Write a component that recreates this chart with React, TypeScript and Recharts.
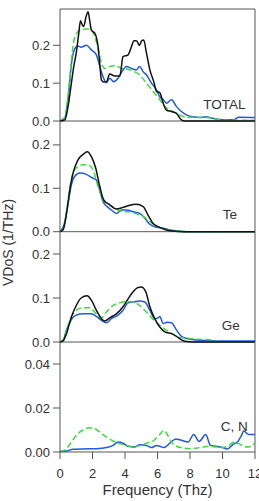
import { LineChart, Line, XAxis, YAxis, ReferenceLine } from "recharts";

type Pt = [number, number];

// frequency (THz) vs VDoS (1/THz)
const totalBlack: Pt[] = [
  [0, 0], [0.3, 0.003], [0.5, 0.04], [0.7, 0.1], [0.85, 0.145], [1.0, 0.18], [1.15, 0.23],
  [1.26, 0.265], [1.36, 0.255], [1.46, 0.25], [1.6, 0.275], [1.73, 0.289], [1.83, 0.265],
  [1.93, 0.24], [2.14, 0.232], [2.34, 0.197], [2.45, 0.15], [2.55, 0.108], [2.7, 0.103],
  [2.86, 0.104], [3.06, 0.124], [3.37, 0.119], [3.68, 0.119], [3.88, 0.17], [4.19, 0.175],
  [4.4, 0.197], [4.55, 0.212], [4.7, 0.212], [4.9, 0.2], [5.02, 0.212], [5.15, 0.214],
  [5.32, 0.18], [5.53, 0.135], [5.77, 0.104], [5.94, 0.078], [6.14, 0.075], [6.35, 0.047],
  [6.55, 0.029], [6.86, 0.025], [7.17, 0.02], [7.47, 0.003], [7.7, 0], [12, 0],
];
const totalGreen: Pt[] = [
  [0, 0], [0.3, 0.01], [0.5, 0.07], [0.7, 0.16], [0.9, 0.22], [1.23, 0.24], [1.62, 0.243],
  [1.93, 0.24], [2.14, 0.223], [2.34, 0.192], [2.55, 0.153], [2.75, 0.139], [3.06, 0.144],
  [3.37, 0.147], [3.78, 0.139], [4.19, 0.137], [4.6, 0.13], [4.9, 0.122], [5.32, 0.1],
  [5.73, 0.078], [6.14, 0.056], [6.55, 0.034], [6.96, 0.025], [7.37, 0.016], [7.78, 0.01],
  [8.6, 0.01], [9.4, 0.007], [9.8, 0.004], [10.5, 0.002], [12, 0.002],
];
const totalBlue: Pt[] = [
  [0, 0], [0.3, 0.008], [0.5, 0.06], [0.7, 0.15], [0.9, 0.19], [1.1, 0.198], [1.3, 0.195],
  [1.62, 0.2], [1.93, 0.188], [2.24, 0.175], [2.45, 0.144], [2.65, 0.117], [2.86, 0.101],
  [3.06, 0.113], [3.3, 0.104], [3.57, 0.113], [3.78, 0.128], [4.09, 0.144], [4.4, 0.139],
  [4.7, 0.135], [4.9, 0.144], [5.12, 0.13], [5.32, 0.122], [5.63, 0.1], [5.94, 0.082],
  [6.14, 0.064], [6.35, 0.057], [6.55, 0.047], [6.86, 0.056], [7.17, 0.038], [7.47, 0.025],
  [7.78, 0.016], [8.19, 0.011], [8.6, 0.009], [9.0, 0.011], [9.4, 0.007], [10.0, 0.003],
  [10.66, 0.003], [11.0, 0.01], [12, 0.009],
];

const teBlack: Pt[] = [
  [0, 0], [0.2, 0.005], [0.4, 0.042], [0.6, 0.096], [0.8, 0.135], [1.1, 0.165], [1.42, 0.178],
  [1.67, 0.184], [1.93, 0.173], [2.2, 0.146], [2.45, 0.104], [2.69, 0.073], [3.06, 0.062],
  [3.47, 0.052], [3.88, 0.056], [4.29, 0.061], [4.7, 0.063], [5.12, 0.058], [5.42, 0.038],
  [5.73, 0.019], [6.14, 0.01], [6.55, 0.004], [6.96, 0.0015], [7.5, 0], [12, 0],
];
const teGreen: Pt[] = [
  [0, 0], [0.2, 0.008], [0.4, 0.046], [0.6, 0.1], [0.8, 0.135], [1.1, 0.15], [1.42, 0.154],
  [1.73, 0.154], [2.04, 0.142], [2.34, 0.104], [2.65, 0.073], [3.06, 0.062], [3.47, 0.052],
  [3.88, 0.046], [4.29, 0.046], [4.7, 0.041], [5.12, 0.035], [5.53, 0.023], [5.94, 0.013],
  [6.55, 0.005], [7.17, 0.0015], [7.8, 0], [12, 0],
];
const teBlue: Pt[] = [
  [0, 0], [0.3, 0.023], [0.5, 0.065], [0.7, 0.108], [0.9, 0.127], [1.23, 0.135], [1.62, 0.132],
  [1.93, 0.125], [2.24, 0.119], [2.45, 0.096], [2.65, 0.069], [2.86, 0.059], [3.16, 0.05],
  [3.47, 0.042], [3.78, 0.05], [4.09, 0.05], [4.5, 0.046], [4.9, 0.042], [5.22, 0.031],
  [5.53, 0.017], [5.94, 0.01], [6.35, 0.008], [6.76, 0.004], [7.37, 0.0015], [8, 0], [12, 0],
];

const geBlack: Pt[] = [
  [0, 0], [0.2, 0.003], [0.4, 0.019], [0.7, 0.057], [1.0, 0.083], [1.3, 0.1], [1.67, 0.105],
  [1.93, 0.095], [2.24, 0.072], [2.55, 0.053], [2.75, 0.048], [3.06, 0.055], [3.47, 0.064],
  [3.88, 0.08], [4.19, 0.098], [4.5, 0.114], [4.75, 0.123], [5.0, 0.125], [5.28, 0.114],
  [5.53, 0.08], [5.83, 0.053], [6.14, 0.034], [6.45, 0.023], [6.86, 0.019], [7.17, 0.013],
  [7.47, 0.005], [7.78, 0.001], [8.2, 0], [12, 0],
];
const geGreen: Pt[] = [
  [0, 0], [0.2, 0.005], [0.4, 0.027], [0.7, 0.057], [1.0, 0.072], [1.42, 0.078], [1.83, 0.078],
  [2.24, 0.064], [2.55, 0.055], [2.86, 0.068], [3.27, 0.083], [3.68, 0.089], [4.09, 0.092],
  [4.5, 0.091], [4.9, 0.083], [5.32, 0.068], [5.73, 0.051], [6.14, 0.038], [6.55, 0.027],
  [6.96, 0.017], [7.37, 0.01], [8.0, 0.008], [8.6, 0.006], [9.2, 0.005], [9.6, 0.001], [10, 0],
  [12, 0],
];
const geBlue: Pt[] = [
  [0, 0], [0.2, 0.004], [0.4, 0.027], [0.7, 0.051], [1.0, 0.061], [1.42, 0.064], [1.93, 0.064],
  [2.24, 0.058], [2.55, 0.049], [2.86, 0.044], [3.16, 0.053], [3.57, 0.061], [3.88, 0.072],
  [4.19, 0.089], [4.5, 0.091], [4.9, 0.093], [5.22, 0.091], [5.53, 0.072], [5.83, 0.053],
  [6.04, 0.055], [6.14, 0.058], [6.35, 0.042], [6.59, 0.045], [6.86, 0.044], [7.17, 0.027],
  [7.47, 0.013], [7.78, 0.008], [8.6, 0.004], [10.66, 0.002], [11.4, 0.002], [12, 0.002],
];

const cnGreen: Pt[] = [
  [0, 0], [0.4, 0.0015], [0.7, 0.0045], [1.0, 0.0076], [1.42, 0.01], [1.83, 0.011],
  [2.14, 0.0106], [2.45, 0.009], [2.86, 0.0068], [3.27, 0.005], [3.68, 0.0038], [4.09, 0.003],
  [4.5, 0.0023], [4.9, 0.0029], [5.32, 0.004], [5.73, 0.005], [6.1, 0.0076], [6.4, 0.0098],
  [6.55, 0.0086], [6.86, 0.0045], [7.17, 0.0026], [7.58, 0.0018], [8.0, 0.0015], [8.6, 0.002],
  [9.2, 0.0026], [9.6, 0.0023], [10.0, 0.002], [10.4, 0.003], [10.7, 0.0045], [11.0, 0.0038],
  [11.4, 0.0023], [11.8, 0.0026], [12, 0.0045],
];
const cnBlue: Pt[] = [
  [0, 0.0003], [0.4, 0.0005], [0.8, 0.0012], [1.42, 0.0014], [2.24, 0.0015], [2.86, 0.002],
  [3.27, 0.003], [3.57, 0.0045], [3.88, 0.004], [4.19, 0.0026], [4.6, 0.0023], [4.9, 0.0033],
  [5.32, 0.003], [5.63, 0.002], [5.94, 0.003], [6.14, 0.0026], [6.4, 0.002], [6.76, 0.004],
  [7.13, 0.0059], [7.47, 0.0053], [7.88, 0.0045], [8.23, 0.008], [8.56, 0.0048], [8.97, 0.0079],
  [9.26, 0.003], [9.6, 0.0026], [10.0, 0.002], [10.3, 0.0014], [10.66, 0.0035], [10.95, 0.0048],
  [11.17, 0.0076], [11.3, 0.0095], [11.6, 0.008], [12, 0.0079],
];

const freqTicks = [0, 2, 4, 6, 8, 10, 12];
const wideTicks = [0, 0.1, 0.2];
const cnTicks = [0, 0.02, 0.04];

const FONT = '"Liberation Sans", Arial, sans-serif';
const AXIS = "#555";
const TEXT = "#333";
const BLACK = "#111";
const BLUE = "#2358dc";
const GREEN = "#3ddc3d";

const rows = (pts: Pt[]) => pts.map(([f, v]) => ({ f, v }));

interface PanelProps {
  top: number;
  plotHeight: number;
  marginTop: number;
  domainMax: number;
  ticks: number[];
  digits: number;
  black?: Pt[];
  blue: Pt[];
  green: Pt[];
  showX?: boolean;
  frameTop?: boolean;
}

const X_AXIS_H = 49.3;

function Panel(p: PanelProps) {
  // room below the plot so the bottom tick label isn't clipped
  const bottom = p.showX ? 0 : 10;
  const height = p.marginTop + p.plotHeight + (p.showX ? X_AXIS_H : bottom);
  return (
    <div style={{ position: "absolute", left: 0, top: p.top - p.marginTop }}>
      <LineChart
        width={259}
        height={height}
        margin={{ top: p.marginTop, right: 4, left: 0, bottom }}
      >
        <XAxis
          type="number"
          dataKey="f"
          domain={[0, 12]}
          ticks={freqTicks}
          interval={0}
          hide={!p.showX}
          height={X_AXIS_H}
          stroke={AXIS}
          tickSize={7}
          tickMargin={10}
          tick={{ fontSize: 13, fill: TEXT }}
          label={{
            value: "Frequency (Thz)",
            position: "insideBottom",
            offset: 6,
            fill: TEXT,
            fontSize: 15,
          }}
        />
        <YAxis
          type="number"
          domain={[0, p.domainMax]}
          ticks={p.ticks}
          interval={0}
          width={60}
          stroke={AXIS}
          tickSize={7}
          tickMargin={3}
          tick={{ fontSize: 13, fill: TEXT }}
          tickFormatter={(v: number) => v.toFixed(p.digits)}
        />
        {!p.showX && <ReferenceLine y={0} stroke={AXIS} />}
        {p.frameTop && <ReferenceLine y={p.domainMax} stroke={AXIS} />}
        <ReferenceLine x={12} stroke={AXIS} />
        <Line
          data={rows(p.blue)}
          dataKey="v"
          type="monotone"
          stroke={BLUE}
          strokeWidth={1.5}
          dot={false}
          isAnimationActive={false}
        />
        <Line
          data={rows(p.green)}
          dataKey="v"
          type="monotone"
          stroke={GREEN}
          strokeWidth={1.5}
          strokeDasharray="6 3"
          dot={false}
          isAnimationActive={false}
        />
        {p.black && (
          <Line
            data={rows(p.black)}
            dataKey="v"
            type="monotone"
            stroke={BLACK}
            strokeWidth={1.5}
            dot={false}
            isAnimationActive={false}
          />
        )}
      </LineChart>
    </div>
  );
}

export default function App() {
  return (
    <div
      style={{
        position: "absolute",
        left: 0,
        top: 0,
        width: 259,
        height: 501,
        background: "#fff",
        fontFamily: FONT,
        overflow: "hidden",
      }}
    >
      <Panel top={9} plotHeight={112} marginTop={9} domainMax={0.296} ticks={wideTicks} digits={1}
        black={totalBlack} blue={totalBlue} green={totalGreen} frameTop />
      <Panel top={121} plotHeight={110.7} marginTop={8} domainMax={0.255} ticks={wideTicks} digits={1}
        black={teBlack} blue={teBlue} green={teGreen} />
      <Panel top={231.7} plotHeight={110} marginTop={8} domainMax={0.25} ticks={wideTicks} digits={1}
        black={geBlack} blue={geBlue} green={geGreen} />
      <Panel top={341.7} plotHeight={110} marginTop={8} domainMax={0.05} ticks={cnTicks} digits={2}
        blue={cnBlue} green={cnGreen} showX />
      <svg
        width={259}
        height={501}
        style={{ position: "absolute", left: 0, top: 0, pointerEvents: "none" }}
      >
        <g fill={TEXT} fontFamily={FONT}>
          <text x={7.5} y={242.5} fontSize={14} textAnchor="middle" dominantBaseline="central"
            transform="rotate(-90 7.5 242.5)">
            VDoS (1/THz)
          </text>
          <text x={203.3} y={109} fontSize={13.5}>TOTAL</text>
          <text x={222.7} y={219} fontSize={13.5}>Te</text>
          <text x={221.7} y={330} fontSize={13.5}>Ge</text>
          <text x={220.7} y={430.7} fontSize={13.5}>C, N</text>
        </g>
      </svg>
    </div>
  );
}
